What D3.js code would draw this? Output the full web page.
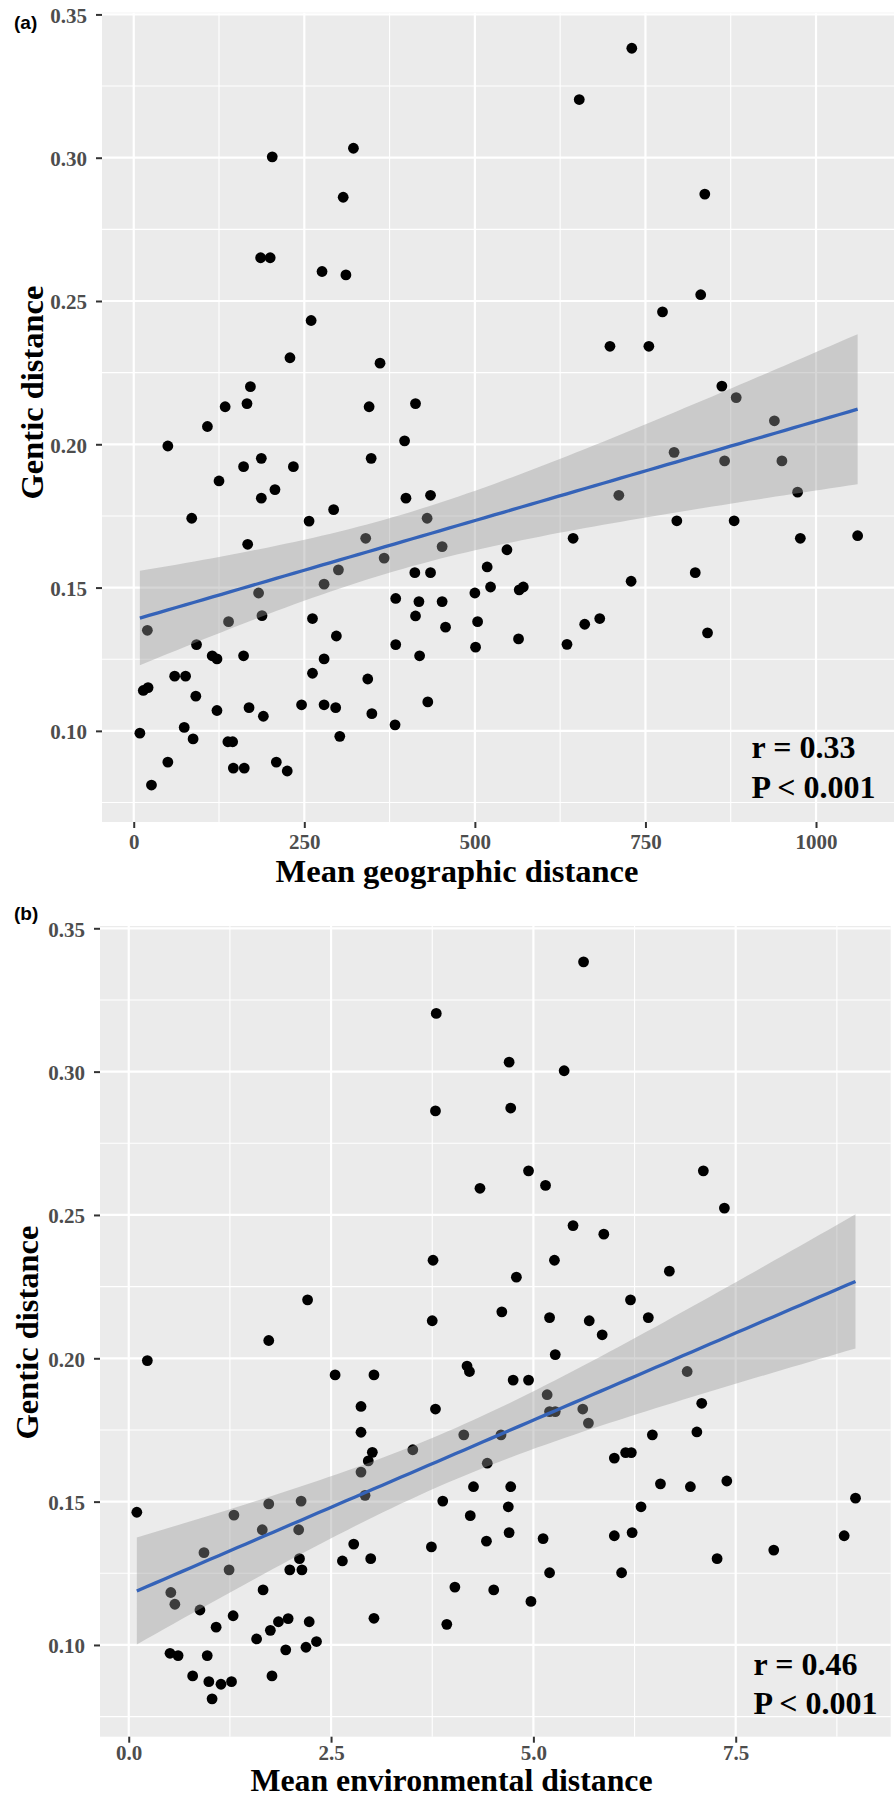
<!DOCTYPE html>
<html>
<head>
<meta charset="utf-8">
<script src="https://cdn.jsdelivr.net/npm/d3@7"></script>
<style>
  html, body { margin: 0; padding: 0; background: #ffffff; }
  svg { display: block; }
</style>
</head>
<body>
<div id="chart"></div>
<script>
// ---------------- DATA ----------------
// Panel (a): mean geographic distance vs genetic distance
const geoDistance = [
  203, 322, 307, 186, 200, 276, 311, 260, 229, 361, 171, 134, 166, 345, 413, 108, 397, 50,
  730, 653, 837, 831, 775, 698, 755, 862, 883, 939, 792,
  348, 161, 187, 234, 125, 207, 187, 399, 435, 293, 85, 257, 430, 340, 167, 452, 367, 300,
  279, 183, 412, 435, 384, 418, 452, 413, 188, 139, 262, 457, 20, 297, 92, 384, 115, 122,
  161, 279, 419, 262, 60, 76, 343, 14, 21, 91, 431, 246, 279, 296, 169, 122, 349, 190,
  383, 74, 9, 302, 87, 138, 145, 50, 209, 146, 162, 225, 26,
  866, 950, 973, 711, 796, 880, 1061, 977, 644, 547, 518, 823, 523, 729, 500, 565, 571,
  504, 683, 661, 841, 564, 635, 501
];
const geneticA = [
  0.3003, 0.3033, 0.2862, 0.2651, 0.2651, 0.2603, 0.2591, 0.2432, 0.2302, 0.2283, 0.2201, 0.2131, 0.2142, 0.2131, 0.2142, 0.2062, 0.2012, 0.1994,
  0.3382, 0.3203, 0.2873, 0.2522, 0.2462, 0.2342, 0.2342, 0.2203, 0.2163, 0.2082, 0.1972,
  0.1951, 0.1922, 0.1951, 0.1922, 0.1872, 0.1842, 0.1812, 0.1812, 0.1822, 0.1772, 0.1742, 0.1732, 0.1742, 0.1672, 0.1651, 0.1643, 0.1603, 0.1562,
  0.1512, 0.1481, 0.1552, 0.1552, 0.1462, 0.1451, 0.1451, 0.1401, 0.1402, 0.1381, 0.1392, 0.1362, 0.1351, 0.1331, 0.1301, 0.1301, 0.1262, 0.1251,
  0.1262, 0.1251, 0.1262, 0.1201, 0.1191, 0.1191, 0.1181, 0.1141, 0.1151, 0.1121, 0.1101, 0.1091, 0.1091, 0.1081, 0.1081, 0.1071, 0.1060, 0.1051,
  0.1021, 0.1012, 0.0992, 0.0981, 0.0972, 0.0962, 0.0962, 0.0891, 0.0891, 0.0870, 0.0870, 0.0860, 0.0811,
  0.1942, 0.1942, 0.1833, 0.1822, 0.1733, 0.1733, 0.1681, 0.1672, 0.1672, 0.1632, 0.1572, 0.1552, 0.1502, 0.1522, 0.1481, 0.1492, 0.1502,
  0.1381, 0.1392, 0.1372, 0.1342, 0.1321, 0.1302, 0.1292
];

// Panel (b): mean environmental distance vs genetic distance
const envDistance = [
  3.80, 3.79, 3.76, 2.21, 3.75, 1.73,
  5.62, 4.70, 5.38, 4.72, 4.94, 4.34, 5.15, 7.10, 7.36, 5.49, 5.87, 5.26, 4.79, 6.68, 4.61, 5.20, 5.69, 5.85, 6.20, 6.42, 5.27,
  0.23, 2.55, 3.03, 2.87, 3.79, 2.87, 3.51, 3.01, 2.96, 2.87, 2.92, 2.13, 1.73, 3.88, 0.10, 1.30, 1.65, 2.10, 3.74, 2.78,
  0.93, 2.11, 2.64, 2.99, 1.24, 1.99, 2.14, 1.66, 0.52, 0.57, 0.88, 1.29, 3.03, 3.93, 1.08, 1.85, 1.97, 2.23, 1.75, 1.58,
  2.32, 1.94, 2.19, 0.51, 0.61, 0.97, 0.79, 1.77, 0.99, 1.14, 1.27, 1.03,
  4.03, 4.18, 4.21, 4.75, 4.94, 5.17, 5.20, 5.27, 5.61, 5.68, 6.90, 7.08, 7.02, 6.47, 4.14, 4.60, 6.00, 6.14, 6.21, 4.43,
  4.26, 4.72, 6.57, 6.94, 7.39, 8.98, 4.69, 6.33, 4.22, 4.70, 6.00, 6.22, 8.84, 4.42, 5.12, 7.97, 7.27, 5.20, 6.09, 4.51, 4.97
];
const geneticB = [
  0.3203, 0.2863, 0.2342, 0.2204, 0.2131, 0.2062,
  0.3383, 0.3033, 0.3003, 0.2873, 0.2654, 0.2593, 0.2603, 0.2654, 0.2524, 0.2463, 0.2433, 0.2342, 0.2283, 0.2304, 0.2162, 0.2142, 0.2131, 0.2082, 0.2204, 0.2142, 0.2013,
  0.1992, 0.1942, 0.1942, 0.1832, 0.1823, 0.1742, 0.1681, 0.1672, 0.1642, 0.1603, 0.1522, 0.1502, 0.1492, 0.1502, 0.1463, 0.1453, 0.1402, 0.1402, 0.1342, 0.1352,
  0.1322, 0.1301, 0.1293, 0.1301, 0.1262, 0.1262, 0.1262, 0.1192, 0.1183, 0.1142, 0.1122, 0.1102, 0.1093, 0.1072, 0.1062, 0.1081, 0.1092, 0.1081, 0.1051, 0.1021,
  0.1012, 0.0983, 0.0992, 0.0971, 0.0963, 0.0963, 0.0892, 0.0892, 0.0872, 0.0863, 0.0872, 0.0812,
  0.1202, 0.1973, 0.1954, 0.1924, 0.1924, 0.1873, 0.1814, 0.1814, 0.1823, 0.1774, 0.1954, 0.1843, 0.1743, 0.1733, 0.1733, 0.1733, 0.1652, 0.1671, 0.1671, 0.1634,
  0.1552, 0.1552, 0.1562, 0.1552, 0.1572, 0.1512, 0.1482, 0.1482, 0.1451, 0.1392, 0.1381, 0.1392, 0.1381, 0.1362, 0.1371, 0.1331, 0.1301, 0.1252, 0.1252, 0.1192, 0.1152
];

// Tick values / labels
const yTicks = [0.10, 0.15, 0.20, 0.25, 0.30, 0.35];
const yTickLabels = ["0.10", "0.15", "0.20", "0.25", "0.30", "0.35"];
const yMinor = [0.075, 0.125, 0.175, 0.225, 0.275, 0.325];
const xTicksA = [0, 250, 500, 750, 1000];
const xTickLabelsA = ["0", "250", "500", "750", "1000"];
const xMinorA = [125, 375, 625, 875];
const xTicksB = [0, 2.5, 5.0, 7.5];
const xTickLabelsB = ["0.0", "2.5", "5.0", "7.5"];
const xMinorB = [1.25, 3.75, 6.25, 8.75];

// Annotation text
const statsA = ["r = 0.33", "P < 0.001"];
const statsB = ["r = 0.46", "P < 0.001"];

// ---------------- LAYOUT ----------------
const W = 896, H = 1798;
const svg = d3.select("#chart").append("svg")
  .attr("width", W).attr("height", H)
  .attr("viewBox", `0 0 ${W} ${H}`);

const serif = "'Liberation Serif', 'Times New Roman', Times, serif";
const sans = "'Liberation Sans', Arial, Helvetica, sans-serif";

function linreg(xs, ys) {
  const n = xs.length;
  const mx = d3.mean(xs), my = d3.mean(ys);
  let sxx = 0, sxy = 0;
  for (let i = 0; i < n; i++) { sxx += (xs[i] - mx) ** 2; sxy += (xs[i] - mx) * (ys[i] - my); }
  const b = sxy / sxx, a = my - b * mx;
  let sse = 0;
  for (let i = 0; i < n; i++) sse += (ys[i] - (a + b * xs[i])) ** 2;
  const s = Math.sqrt(sse / (n - 2));
  const t = 1.9803; // 97.5% t quantile, df = 118
  const [x0, x1] = d3.extent(xs);
  const grid = d3.range(80).map(i => x0 + (x1 - x0) * i / 79);
  return grid.map(x => {
    const fit = a + b * x;
    const se = s * Math.sqrt(1 / n + (x - mx) ** 2 / sxx);
    return { x, fit, lo: fit - t * se, hi: fit + t * se };
  });
}

function drawPanel(cfg) {
  const g = svg.append("g");
  const x = d3.scaleLinear().domain(cfg.xDomain).range([cfg.left, cfg.right]);
  const y = d3.scaleLinear().domain(cfg.yDomain).range([cfg.bottom, cfg.top]);

  // panel background
  g.append("rect")
    .attr("x", cfg.left).attr("y", cfg.top)
    .attr("width", cfg.right - cfg.left).attr("height", cfg.bottom - cfg.top)
    .attr("fill", "#EBEBEB");

  const grid = g.append("g");
  // minor grid
  grid.selectAll(".ymin").data(yMinor).enter().append("line")
    .attr("x1", cfg.left).attr("x2", cfg.right)
    .attr("y1", d => y(d)).attr("y2", d => y(d))
    .attr("stroke", "#ffffff").attr("stroke-width", 1.1);
  grid.selectAll(".xmin").data(cfg.xMinor).enter().append("line")
    .attr("y1", cfg.top).attr("y2", cfg.bottom)
    .attr("x1", d => x(d)).attr("x2", d => x(d))
    .attr("stroke", "#ffffff").attr("stroke-width", 1.1);
  // major grid
  grid.selectAll(".ymaj").data(yTicks).enter().append("line")
    .attr("x1", cfg.left).attr("x2", cfg.right)
    .attr("y1", d => y(d)).attr("y2", d => y(d))
    .attr("stroke", "#ffffff").attr("stroke-width", 2.2);
  grid.selectAll(".xmaj").data(cfg.xTicks).enter().append("line")
    .attr("y1", cfg.top).attr("y2", cfg.bottom)
    .attr("x1", d => x(d)).attr("x2", d => x(d))
    .attr("stroke", "#ffffff").attr("stroke-width", 2.2);

  // points
  const pts = cfg.xs.map((v, i) => ({ x: v, y: cfg.ys[i] }));
  g.append("g").selectAll("circle").data(pts).enter().append("circle")
    .attr("cx", d => x(d.x)).attr("cy", d => y(d.y))
    .attr("r", 5.4).attr("fill", "#000000");

  // regression band + line (lm fit with 95% CI, as geom_smooth)
  const fit = linreg(cfg.xs, cfg.ys);
  g.append("path").datum(fit)
    .attr("d", d3.area().x(d => x(d.x)).y0(d => y(d.lo)).y1(d => y(d.hi)))
    .attr("fill", "#999999").attr("fill-opacity", 0.4);
  g.append("path").datum(fit)
    .attr("d", d3.line().x(d => x(d.x)).y(d => y(d.fit)))
    .attr("fill", "none").attr("stroke", "#3563B8").attr("stroke-width", 3.3);

  // axes
  const yAxis = d3.axisLeft(y).tickValues(yTicks)
    .tickFormat((d, i) => yTickLabels[i]).tickSize(6).tickPadding(9);
  const ya = g.append("g").attr("transform", `translate(${cfg.left},0)`).call(yAxis);
  const xAxis = d3.axisBottom(x).tickValues(cfg.xTicks)
    .tickFormat((d, i) => cfg.xTickLabels[i]).tickSize(6).tickPadding(cfg.xPad);
  const xa = g.append("g").attr("transform", `translate(0,${cfg.bottom})`).call(xAxis);
  [ya, xa].forEach(a => {
    a.select(".domain").remove();
    a.selectAll(".tick line").attr("stroke", "#333333").attr("stroke-width", 2);
    a.selectAll(".tick text")
      .attr("font-family", serif).attr("font-weight", "bold")
      .attr("font-size", 21).attr("fill", "#4D4D4D");
  });
  ya.selectAll(".tick text").attr("dy", "0.38em");

  // axis titles
  g.append("text")
    .attr("x", cfg.xTitlePos[0]).attr("y", cfg.xTitlePos[1])
    .attr("text-anchor", "middle")
    .attr("font-family", serif).attr("font-weight", "bold").attr("font-size", cfg.xTitleSize)
    .attr("fill", "#000").text(cfg.xTitle);
  g.append("text")
    .attr("transform", `translate(${cfg.yTitlePos[0]},${cfg.yTitlePos[1]}) rotate(-90)`)
    .attr("text-anchor", "middle")
    .attr("font-family", serif).attr("font-weight", "bold").attr("font-size", 32.5)
    .attr("fill", "#000").text("Gentic distance");

  // stats annotation (placed in data coordinates)
  cfg.stats.forEach((s, i) => {
    g.append("text")
      .attr("x", x(cfg.statPos[0])).attr("y", y(cfg.statPos[1][i]))
      .attr("font-family", serif).attr("font-weight", "bold").attr("font-size", 32)
      .attr("fill", "#000").text(s);
  });

  // panel tag
  g.append("text")
    .attr("x", cfg.tagPos[0]).attr("y", cfg.tagPos[1])
    .attr("font-family", sans).attr("font-weight", "bold").attr("font-size", 19)
    .attr("fill", "#000").text(cfg.tag);
}

drawPanel({
  xs: geoDistance, ys: geneticA,
  xDomain: [-46.5, 1114.3], yDomain: [0.0682, 0.3506],
  left: 102, right: 894, top: 12.7, bottom: 822,
  xTicks: xTicksA, xTickLabels: xTickLabelsA, xMinor: xMinorA, xPad: 6.5,
  xTitle: "Mean geographic distance", xTitlePos: [457, 881.7], xTitleSize: 32.5,
  yTitlePos: [43.3, 392.5],
  stats: statsA, statPos: [905.5, [0.0905, 0.0765]],
  tag: "(a)", tagPos: [14, 28.5]
});

drawPanel({
  xs: envDistance, ys: geneticB,
  xDomain: [-0.355, 9.415], yDomain: [0.068, 0.3508],
  left: 100, right: 890.7, top: 926, bottom: 1736.7,
  xTicks: xTicksB, xTickLabels: xTickLabelsB, xMinor: xMinorB, xPad: 2.0,
  xTitle: "Mean environmental distance", xTitlePos: [451.5, 1790.8], xTitleSize: 31.8,
  yTitlePos: [38.3, 1332.5],
  stats: statsB, statPos: [7.72, [0.0895, 0.0759]],
  tag: "(b)", tagPos: [14, 919.5]
});
</script>
</body>
</html>
